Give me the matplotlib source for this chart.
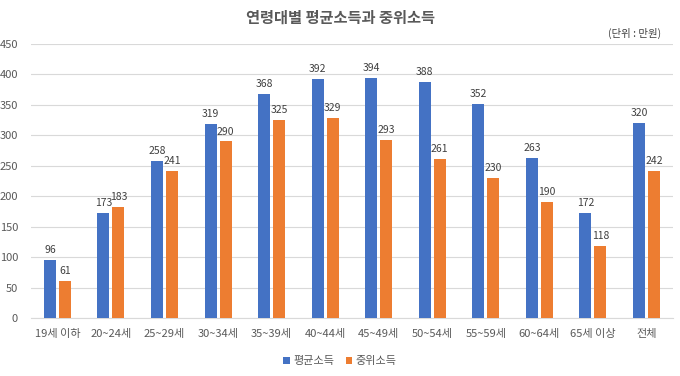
import matplotlib.pyplot as plt
import numpy as np

plt.rcParams['font.family'] = ['Noto Sans CJK KR', 'DejaVu Sans']

categories = ['19세 이하', '20~24세', '25~29세', '30~34세', '35~39세', '40~44세',
              '45~49세', '50~54세', '55~59세', '60~64세', '65세 이상', '전체']
mean_income = [96, 173, 258, 319, 368, 392, 394, 388, 352, 263, 172, 320]
median_income = [61, 183, 241, 290, 325, 329, 293, 261, 230, 190, 118, 242]

blue = '#4472C4'
orange = '#ED7D31'
gray = '#595959'

fig = plt.figure(figsize=(6.8, 3.76), dpi=100)
ax = fig.add_axes([0.045, 0.154, 0.945, 0.729])

x = np.arange(len(categories))
w = 0.224
off = 0.14
b1 = ax.bar(x - off, mean_income, w, color=blue, label='평균소득', zorder=3)
b2 = ax.bar(x + off, median_income, w, color=orange, label='중위소득', zorder=3)

for bars in (b1, b2):
    for r in bars:
        ax.text(r.get_x() + r.get_width() / 2, r.get_height() + 8, f'{int(r.get_height())}',
                ha='center', va='bottom', fontsize=7.5, color='#404040')

ax.set_xlim(-0.5, len(categories) - 0.5)
ax.set_ylim(0, 450)
ax.set_yticks(range(0, 451, 50))
ax.set_xticks(x)
ax.set_xticklabels(categories)
ax.tick_params(axis='both', length=0, labelsize=8, colors=gray)
ax.tick_params(axis='x', pad=8)
ax.tick_params(axis='y', pad=9)
ax.grid(axis='y', color='#D9D9D9', linewidth=0.8, zorder=0)
for s in ['top', 'right', 'left']:
    ax.spines[s].set_visible(False)
ax.spines['bottom'].set_color('#D9D9D9')

fig.text(0.5, 0.953, '연령대별 평균소득과 중위소득', ha='center', va='center',
         fontsize=11, fontweight='bold', color=gray)
fig.text(0.972, 0.91, '(단위 : 만원)', ha='right', va='center', fontsize=7.5, color='#404040')

fig.legend(loc='lower center', bbox_to_anchor=(0.5, 0.0), ncol=2, frameon=False,
           fontsize=8, handlelength=0.6, handleheight=0.6, handletextpad=0.3,
           columnspacing=1.0, labelcolor=gray)

plt.savefig('out.png', dpi=100)
